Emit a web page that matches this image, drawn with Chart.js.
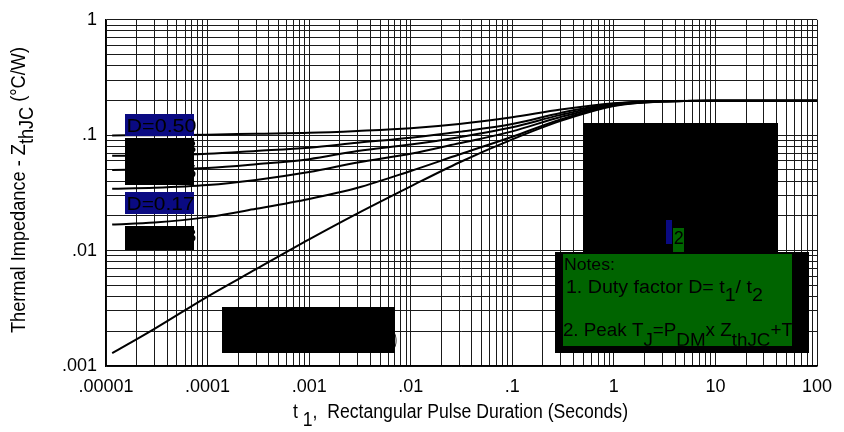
<!DOCTYPE html>
<html>
<head>
<meta charset="utf-8">
<script src="https://cdn.jsdelivr.net/npm/chart.js@4.4.1/dist/chart.umd.min.js"></script>
<style>
  html, body { margin: 0; padding: 0; background: #fff; }
  #wrap { width: 844px; height: 432px; }
</style>
</head>
<body>
<div id="wrap"><canvas id="chart" width="844" height="432"></canvas></div>
<script>
// Pulse durations (seconds), shared by all curves
const pulseTimes = [1.15e-5, 3e-5, 1e-4, 3e-4, 1e-3, 3e-3, 1e-2, 3e-2, 1e-1, 3e-1, 1, 3, 10, 100];

// Thermal impedance ZthJC (°C/W) for each duty factor
const zD50 = [0.0995, 0.100, 0.101, 0.103, 0.105, 0.109, 0.115, 0.125, 0.143, 0.167, 0.189, 0.198, 0.199, 0.199];
const zD33 = [0.0663, 0.067, 0.069, 0.073, 0.078, 0.086, 0.095, 0.107, 0.125, 0.156, 0.187, 0.197, 0.199, 0.199];
const zD25 = [0.0499, 0.0505, 0.052, 0.056, 0.062, 0.073, 0.083, 0.096, 0.117, 0.150, 0.185, 0.197, 0.199, 0.199];
const zD17 = [0.0343, 0.035, 0.037, 0.041, 0.048, 0.058, 0.069, 0.085, 0.108, 0.144, 0.183, 0.197, 0.199, 0.199];
const zD08 = [0.0168, 0.0175, 0.0195, 0.023, 0.028, 0.035, 0.049, 0.068, 0.097, 0.137, 0.181, 0.196, 0.199, 0.199];
const zSingle = [0.00129, 0.0021, 0.0040, 0.0069, 0.0125, 0.021, 0.036, 0.058, 0.092, 0.133, 0.179, 0.196, 0.199, 0.199];

const curveLabels = ['D=0.50', 'D=0.33', 'D=0.25', 'D=0.17', 'D=0.08', 'SINGLE PULSE (THERMAL RESPONSE)'];

// Axis ticks
const xDecades = [1e-5, 1e-4, 1e-3, 1e-2, 1e-1, 1, 10, 100];
const xTickLabels = ['.00001', '.0001', '.001', '.01', '.1', '1', '10', '100'];
const yDecades = [1e-3, 1e-2, 1e-1, 1];
const yTickLabels = ['.001', '.01', '.1', '1'];

const FONT = '"Liberation Sans", Arial, sans-serif';

// all 1..9 x 10^k grid positions between the first and last decade
function logGrid(decades) {
  const out = [];
  for (let i = 0; i < decades.length - 1; i++) {
    for (let m = 1; m < 10; m++) out.push({ value: decades[i] * m });
  }
  out.push({ value: decades[decades.length - 1] });
  return out;
}

function decadeLabel(value, decades, labels) {
  const i = decades.findIndex(d => Math.abs(d - value) / d < 1e-6);
  return i >= 0 ? labels[i] : '';
}

function toPoints(ys) {
  return pulseTimes.map((t, i) => ({ x: t, y: ys[i] }));
}

// draw text made of normal/subscript parts, squeezed to a given width
function richText(ctx, parts, x, y, size, width, subDrop) {
  ctx.font = size + 'px ' + FONT;
  let total = 0;
  parts.forEach(p => { total += ctx.measureText(p[0]).width; });
  const k = width ? width / total : 1;
  ctx.save();
  ctx.translate(x, y);
  ctx.scale(k, 1);
  let cx = 0;
  parts.forEach(p => {
    ctx.fillText(p[0], cx, p[1] ? subDrop : 0);
    cx += ctx.measureText(p[0]).width;
  });
  ctx.restore();
}

const overlays = {
  id: 'overlays',
  afterDatasetsDraw(chart) {
    const ctx = chart.ctx;
    const sx = chart.scales.x, sy = chart.scales.y;
    const rect = (x0, x1, y0, y1, fill) => {
      const a = sx.getPixelForValue(x0), b = sx.getPixelForValue(x1);
      const c = sy.getPixelForValue(y0), d = sy.getPixelForValue(y1);
      ctx.fillStyle = fill;
      ctx.fillRect(Math.round(a), Math.round(c), Math.round(b - a), Math.round(d - c));
      return { l: a, r: b, t: c, b: d };
    };
    ctx.save();
    ctx.textBaseline = 'alphabetic';
    ctx.textAlign = 'left';

    // curve labels (partly hidden under the black boxes)
    const labX = sx.getPixelForValue(1.54e-5) + 1.5;
    const b1 = rect(1.54e-5, 7.35e-5, 0.153, 0.099, '#0a0a82');
    ctx.fillStyle = '#000';
    richText(ctx, [[curveLabels[0], 0]], labX, b1.b - 4, 19, 70, 0);
    richText(ctx, [[curveLabels[1], 0]], labX, b1.b + 17, 19, 70, 0);
    richText(ctx, [[curveLabels[2], 0]], labX, b1.b + 42, 19, 70, 0);
    rect(1.54e-5, 7.35e-5, 0.0952, 0.0376, '#000');

    const b2 = rect(1.54e-5, 7.35e-5, 0.0321, 0.0208, '#0a0a82');
    ctx.fillStyle = '#000';
    richText(ctx, [[curveLabels[3], 0]], labX, b2.b - 4, 19, 68, 0);
    richText(ctx, [[curveLabels[4], 0]], labX, b2.b + 28, 19, 70, 0);
    rect(1.54e-5, 7.35e-5, 0.0164, 0.01026, '#000');

    // single pulse label under its box
    ctx.fillStyle = '#000';
    const spL = sx.getPixelForValue(1.386e-4);
    richText(ctx, [[curveLabels[5], 0]], spL + 2, 345, 17, 173, 0);
    rect(1.386e-4, 6.99e-3, 0.00324, 0.001306, '#000');

    // pulse diagram area (blacked out) with t2 marks
    rect(0.4955, 41.1, 0.128, 0.0098, '#000');
    rect(3.25, 3.72, 0.01845, 0.01148, '#0a0a82');
    const g = rect(3.81, 4.89, 0.01575, 0.0098, '#006400');
    ctx.fillStyle = '#000';
    richText(ctx, [['2', 0]], g.l + 1, g.t + 16, 18, 10, 0);

    // notes panel
    rect(0.2625, 83, 0.0098, 0.001306, '#000');
    const n = rect(0.315, 56.5, 0.00942, 0.0015, '#006400');
    ctx.save();
    ctx.beginPath();
    ctx.rect(n.l, n.t, n.r - n.l, n.b - n.t);
    ctx.clip();
    ctx.fillStyle = '#000';
    richText(ctx, [['Notes:', 0]], n.l + 1, n.t + 16, 16, 51, 0);
    richText(ctx, [['1. Duty factor D= t', 0], ['1', 1], ['/ t', 0], ['2', 1]], n.l + 3, n.t + 39, 18, 197, 8);
    richText(ctx, [['2. Peak T', 0], ['J', 1], ['=P', 0], ['DM', 1], ['x Z', 0], ['thJC', 1], ['+T', 0]],
      n.l, n.t + 82, 18, 230, 10);
    ctx.restore();
    ctx.restore();
  },
  afterDraw(chart) {
    const ctx = chart.ctx;
    ctx.save();
    ctx.fillStyle = '#000';
    ctx.textBaseline = 'alphabetic';
    // x title
    richText(ctx, [['t ', 0], ['1', 1], [',  Rectangular Pulse Duration (Seconds)', 0]], 293, 418, 20, 335, 8);
    // y title, rotated
    ctx.translate(25, 333);
    ctx.rotate(-Math.PI / 2);
    richText(ctx, [['Thermal Impedance - Z', 0], ['thJC', 1], [' (°C/W)', 0]], 0, 0, 20, 286, 8);
    ctx.restore();
  }
};

const lineStyle = {
  borderColor: '#000',
  borderWidth: 2,
  pointRadius: 0,
  fill: false,
  cubicInterpolationMode: 'monotone'
};

const ctx = document.getElementById('chart').getContext('2d');
const chart = new Chart(ctx, {
  type: 'line',
  data: {
    datasets: [zD50, zD33, zD25, zD17, zD08, zSingle].map((z, i) =>
      Object.assign({ label: curveLabels[i], data: toPoints(z) }, lineStyle))
  },
  options: {
    responsive: false,
    animation: false,
    devicePixelRatio: 1,
    layout: { padding: { top: 16, right: 27, left: 0, bottom: 0 } },
    plugins: { legend: { display: false }, tooltip: { enabled: false }, title: { display: false } },
    scales: {
      x: {
        type: 'logarithmic',
        min: 1e-5,
        max: 100,
        afterBuildTicks: s => { s.ticks = logGrid(xDecades); },
        afterFit: s => { s.height = 66; },
        grid: { color: '#1a1a1a', lineWidth: 1, drawTicks: false },
        border: { display: true, color: '#000', width: 1.5 },
        ticks: {
          autoSkip: false,
          maxRotation: 0,
          padding: 10,
          color: '#000',
          font: { family: FONT, size: 18 },
          callback: v => decadeLabel(v, xDecades, xTickLabels)
        }
      },
      y: {
        type: 'logarithmic',
        min: 1e-3,
        max: 1,
        afterBuildTicks: s => { s.ticks = logGrid(yDecades); },
        afterFit: s => { s.width = 106; },
        grid: { color: '#1a1a1a', lineWidth: 1, drawTicks: false },
        border: { display: true, color: '#000', width: 1.5 },
        ticks: {
          autoSkip: false,
          padding: 9,
          color: '#000',
          font: { family: FONT, size: 18 },
          callback: v => decadeLabel(v, yDecades, yTickLabels)
        }
      }
    }
  },
  plugins: [overlays]
});
</script>
</body>
</html>
